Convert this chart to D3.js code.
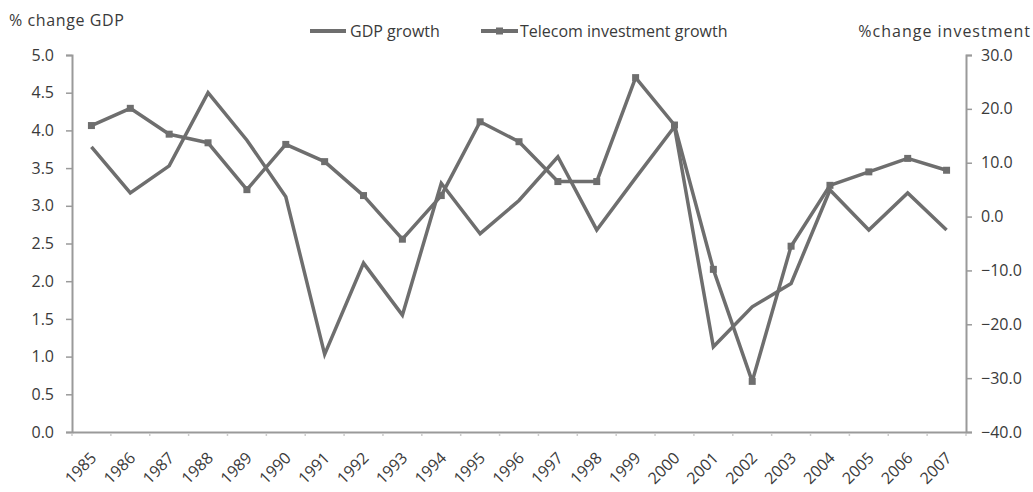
<!DOCTYPE html>
<html>
<head>
<meta charset="utf-8">
<script src="https://cdn.jsdelivr.net/npm/d3@7"></script>
<style>
  html, body { margin: 0; padding: 0; background: #fff; }
  svg text { font-family: "Open Sans", "Noto Sans", sans-serif; fill: #3a3a3a; }
</style>
</head>
<body>
<svg id="chart" width="1033" height="492"></svg>
<script>
const years = ["1985","1986","1987","1988","1989","1990","1991","1992","1993","1994","1995","1996","1997","1998","1999","2000","2001","2002","2003","2004","2005","2006","2007"];
const gdpGrowth = [3.78,3.17,3.53,4.50,3.87,3.12,1.03,2.24,1.55,3.30,2.63,3.07,3.65,2.68,3.37,4.05,1.13,1.66,1.97,3.21,2.68,3.17,2.68];
const telecomGrowth = [16.9,20.1,15.3,13.7,5.0,13.4,10.2,3.9,-4.2,3.9,17.6,13.9,6.5,6.5,25.8,17.0,-9.8,-30.6,-5.5,5.8,8.3,10.8,8.6];
const leftTicks = [0,0.5,1,1.5,2,2.5,3,3.5,4,4.5,5];
const rightTicks = [-40,-30,-20,-10,0,10,20,30];
const leftTitle = "% change GDP";
const rightTitle = "%change investment";
const seriesNames = ["GDP growth", "Telecom investment growth"];

const svg = d3.select("#chart");
const pLeft = 72, pRight = 966, pTop = 55, pBottom = 432;
const lineColor = "#6e6e6e";
const axisColor = "#9a9a9a";

const x = d3.scaleBand().domain(years).range([pLeft, pRight]).padding(0);
const yL = d3.scaleLinear().domain([0, 5]).range([pBottom, pTop]);
const yR = d3.scaleLinear().domain([-40, 30]).range([pBottom, pTop]);

// Left axis
const gL = svg.append("g").attr("transform", `translate(${pLeft},0)`)
  .call(d3.axisLeft(yL).tickValues(leftTicks).tickFormat(d3.format(".1f")).tickSize(6).tickPadding(12));
// Right axis
const gR = svg.append("g").attr("transform", `translate(${pRight},0)`)
  .call(d3.axisRight(yR).tickValues(rightTicks).tickFormat(d3.format(".1f")).tickSize(6).tickPadding(9));
// X axis
const gX = svg.append("g").attr("transform", `translate(0,${pBottom})`)
  .call(d3.axisBottom(x).tickSize(0).tickFormat(d => d));
// band boundary ticks
gX.selectAll(".bt").data(d3.range(years.length + 1)).enter().append("line")
  .attr("x1", i => pLeft + i * x.step()).attr("x2", i => pLeft + i * x.step())
  .attr("y1", 0).attr("y2", 5).attr("stroke", axisColor).attr("stroke-width", 1.5)
  .attr("stroke-dasharray", "1,1.5");

[gL, gR, gX].forEach(g => {
  g.select(".domain").attr("stroke", axisColor).attr("stroke-width", 2);
  g.selectAll(".tick line").attr("stroke", axisColor).attr("stroke-width", 1.5);
  g.selectAll(".tick text").style("font-size", "16px").attr("fill", "#3a3a3a");
});
gX.selectAll(".tick text")
  .attr("text-anchor", "end")
  .attr("dy", "0")
  .attr("transform", "translate(4,25) rotate(-45)")
  .style("font-size", "16px");

// Lines
const lineG = d3.line().x((d, i) => x(years[i]) + x.bandwidth() / 2).y(d => yL(d));
const lineT = d3.line().x((d, i) => x(years[i]) + x.bandwidth() / 2).y(d => yR(d));

svg.append("path").datum(telecomGrowth).attr("d", lineT)
  .attr("fill", "none").attr("stroke", lineColor).attr("stroke-width", 3.5).attr("stroke-linejoin", "round");
svg.append("g").selectAll("rect").data(telecomGrowth).enter().append("rect")
  .attr("x", (d, i) => x(years[i]) + x.bandwidth() / 2 - 3.5)
  .attr("y", d => yR(d) - 3.5)
  .attr("width", 7).attr("height", 7).attr("fill", lineColor);

svg.append("path").datum(gdpGrowth).attr("d", lineG)
  .attr("fill", "none").attr("stroke", lineColor).attr("stroke-width", 3.5).attr("stroke-linejoin", "miter");

// Titles
svg.append("text").attr("x", 9).attr("y", 26).text(leftTitle)
  .style("font-size", "16px").style("letter-spacing", "0.6px");
svg.append("text").attr("x", 1031).attr("y", 37).attr("text-anchor", "end").text(rightTitle)
  .style("font-size", "16px").style("letter-spacing", "1px");

// Legend
const lg = svg.append("g");
lg.append("line").attr("x1", 310).attr("x2", 346).attr("y1", 31).attr("y2", 31)
  .attr("stroke", lineColor).attr("stroke-width", 4);
lg.append("text").attr("x", 350).attr("y", 37).text(seriesNames[0]).style("font-size", "16px");
lg.append("line").attr("x1", 481).attr("x2", 518).attr("y1", 31).attr("y2", 31)
  .attr("stroke", lineColor).attr("stroke-width", 4);
lg.append("rect").attr("x", 496).attr("y", 27.5).attr("width", 7).attr("height", 7).attr("fill", lineColor);
lg.append("text").attr("x", 520).attr("y", 37).text(seriesNames[1]).style("font-size", "16px");
</script>
</body>
</html>
